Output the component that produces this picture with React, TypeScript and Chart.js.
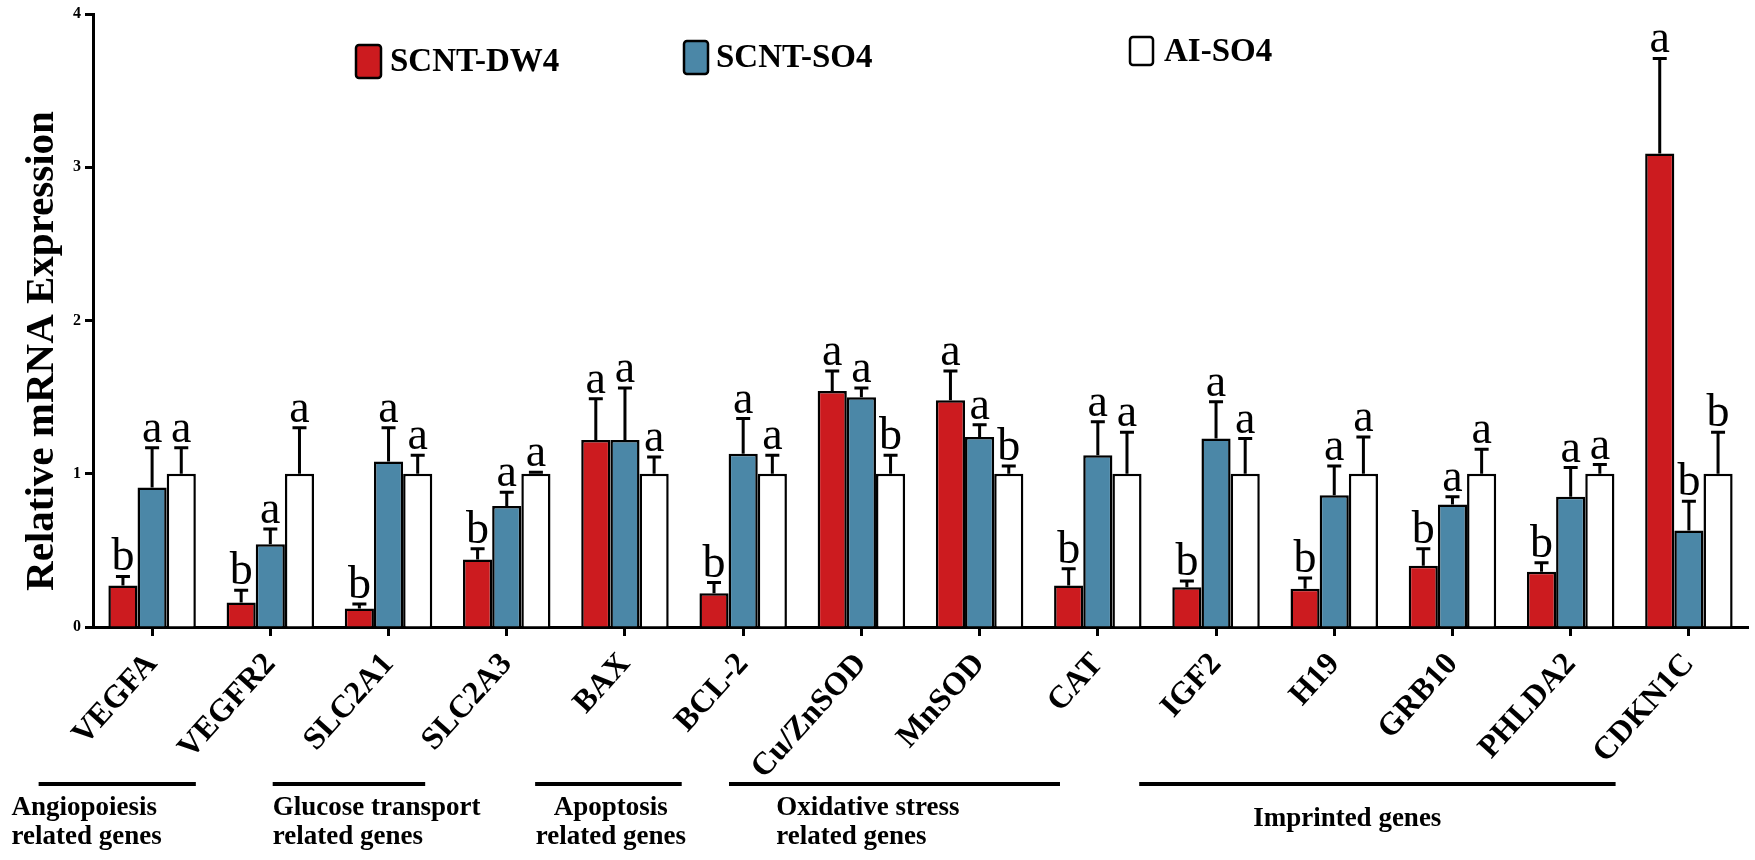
import React, { useEffect, useRef } from "react";
import { Chart, registerables } from "chart.js";

Chart.register(...registerables);

const genes = ["VEGFA", "VEGFR2", "SLC2A1", "SLC2A3", "BAX", "BCL-2", "Cu/ZnSOD", "MnSOD", "CAT", "IGF2", "H19", "GRB10", "PHLDA2", "CDKN1C"];
const seriesNames = ["SCNT-DW4", "SCNT-SO4", "AI-SO4"];

const dw4 = [0.27, 0.16, 0.12, 0.44, 1.22, 0.22, 1.54, 1.48, 0.27, 0.26, 0.25, 0.40, 0.36, 3.09];
const so4 = [0.91, 0.54, 1.08, 0.79, 1.22, 1.13, 1.50, 1.24, 1.12, 1.23, 0.86, 0.80, 0.85, 0.63];
const aiso4 = [1, 1, 1, 1, 1, 1, 1, 1, 1, 1, 1, 1, 1, 1];

const dw4Err = [0.06, 0.08, 0.03, 0.07, 0.27, 0.07, 0.13, 0.19, 0.11, 0.04, 0.07, 0.11, 0.06, 0.62];
const so4Err = [0.26, 0.10, 0.22, 0.09, 0.34, 0.23, 0.06, 0.08, 0.22, 0.24, 0.19, 0.05, 0.19, 0.19];
const aiso4Err = [0.17, 0.30, 0.12, 0.01, 0.11, 0.12, 0.12, 0.05, 0.27, 0.23, 0.24, 0.16, 0.06, 0.27];

const dw4Letters = ["b", "b", "b", "b", "a", "b", "a", "a", "b", "b", "b", "b", "b", "a"];
const so4Letters = ["a", "a", "a", "a", "a", "a", "a", "a", "a", "a", "a", "a", "a", "b"];
const aiso4Letters = ["a", "a", "a", "a", "a", "a", "b", "b", "a", "a", "a", "a", "a", "b"];

const yTicks = [0, 1, 2, 3, 4];

const groupNames = [
  ["Angiopoiesis", "related genes"],
  ["Glucose transport", "related genes"],
  ["Apoptosis", "related genes"],
  ["Oxidative stress", "related genes"],
  ["Imprinted genes"],
];

const SERIF = "'Liberation Serif', 'Times New Roman', serif";
const COLORS = ["#CC1B1F", "#4B87A7", "#FFFFFF"];

const ERRS = [dw4Err, so4Err, aiso4Err];
const LETTERS = [dw4Letters, so4Letters, aiso4Letters];

// layout of group annotations (in category-index units along the x scale)
const groupLayout = [
  { ls: -0.96, le: 0.37, tx: -1.19, align: "left", ty: [808, 837] },
  { ls: 1.02, le: 2.31, tx: 1.02, align: "left", ty: [808, 837] },
  { ls: 3.24, le: 4.48, tx: 3.88, align: "center", ty: [808, 837] },
  { ls: 4.88, le: 7.68, tx: 5.28, align: "left", ty: [808, 837] },
  { ls: 8.35, le: 12.38, tx: 10.11, align: "center", ty: [819] },
];

const errorBarPlugin = {
  id: "errorBars",
  afterDatasetsDraw(chart: any) {
    const ctx = chart.ctx;
    const y = chart.scales.y;
    ctx.save();
    chart.data.datasets.forEach((ds: any, di: number) => {
      const meta = chart.getDatasetMeta(di);
      meta.data.forEach((bar: any, i: number) => {
        const v = ds.data[i];
        const top = y.getPixelForValue(v + ERRS[di][i]);
        ctx.strokeStyle = "#000";
        ctx.lineWidth = 3;
        ctx.beginPath();
        ctx.moveTo(bar.x, bar.y);
        ctx.lineTo(bar.x, top);
        ctx.moveTo(bar.x - 7, top);
        ctx.lineTo(bar.x + 7, top);
        ctx.stroke();
        ctx.fillStyle = "#000";
        ctx.font = `46px ${SERIF}`;
        ctx.textAlign = "center";
        ctx.textBaseline = "alphabetic";
        ctx.fillText(LETTERS[di][i], bar.x, top - 6);
      });
    });
    ctx.restore();
  },
};

const decorPlugin = {
  id: "decor",
  afterDraw(chart: any) {
    const ctx = chart.ctx;
    const xs = chart.scales.x;
    const step = xs.getPixelForValue(1) - xs.getPixelForValue(0);
    const px = (u: number) => xs.getPixelForValue(0) + u * step;
    ctx.save();
    // y axis title
    ctx.save();
    ctx.translate(42, 351);
    ctx.rotate(-Math.PI / 2);
    ctx.font = `bold 41px ${SERIF}`;
    ctx.fillStyle = "#000";
    ctx.textAlign = "center";
    ctx.textBaseline = "middle";
    ctx.fillText("Relative mRNA Expression", 0, 0);
    ctx.restore();

    // legend
    const leg = [
      { bx: 356, by: 45, bw: 25, bh: 33, tx: 390, ty: 62 },
      { bx: 684, by: 41, bw: 24, bh: 33, tx: 716, ty: 58 },
      { bx: 1130, by: 37, bw: 23, bh: 28, tx: 1164, ty: 52 },
    ];
    chart.data.datasets.forEach((ds: any, i: number) => {
      const l = leg[i];
      ctx.fillStyle = ds.backgroundColor;
      ctx.strokeStyle = "#000";
      ctx.lineWidth = 2.5;
      ctx.beginPath();
      if (ctx.roundRect) ctx.roundRect(l.bx, l.by, l.bw, l.bh, 3);
      else ctx.rect(l.bx, l.by, l.bw, l.bh);
      ctx.fill();
      ctx.stroke();
      ctx.fillStyle = "#000";
      ctx.font = `bold 33px ${SERIF}`;
      ctx.textAlign = "left";
      ctx.textBaseline = "middle";
      ctx.fillText(ds.label, l.tx, l.ty);
    });

    // group annotations
    groupNames.forEach((lines, gi) => {
      const g = groupLayout[gi];
      ctx.strokeStyle = "#000";
      ctx.lineWidth = 4;
      ctx.beginPath();
      ctx.moveTo(px(g.ls), 784);
      ctx.lineTo(px(g.le), 784);
      ctx.stroke();
      ctx.fillStyle = "#000";
      ctx.font = `bold 27px ${SERIF}`;
      ctx.textAlign = g.align;
      ctx.textBaseline = "middle";
      lines.forEach((t, li) => ctx.fillText(t, px(g.tx), g.ty[li]));
    });
    ctx.restore();
  },
};

export default function App() {
  const ref = useRef<HTMLCanvasElement>(null);
  useEffect(() => {
    document.body.style.margin = "0";
    const chart = new Chart(ref.current as HTMLCanvasElement, {
      type: "bar",
      data: {
        labels: genes,
        datasets: [dw4, so4, aiso4].map((d, i) => ({
          label: seriesNames[i],
          data: d,
          backgroundColor: COLORS[i],
          borderColor: "#000",
          borderWidth: 2.5,
          borderSkipped: "bottom",
          categoryPercentage: 0.74,
          barPercentage: 1.0,
        })),
      },
      options: {
        responsive: false,
        animation: false,
        devicePixelRatio: 1,
        layout: { padding: { left: 0, right: 7, top: 14, bottom: 0 } },
        plugins: { legend: { display: false }, tooltip: { enabled: false } },
        scales: {
          x: {
            afterFit: (s: any) => { s.height = 233; },
            grid: { display: true, drawOnChartArea: false, drawTicks: true, offset: false, tickLength: 9, tickWidth: 3, tickColor: "#000" },
            border: { display: true, color: "#000", width: 3 },
            ticks: {
              autoSkip: false,
              minRotation: 48,
              maxRotation: 48,
              padding: 10,
              color: "#000",
              font: { family: SERIF, size: 32, weight: "bold" },
            },
          },
          y: {
            min: 0,
            max: 4,
            afterFit: (s: any) => { s.width = 93; },
            afterBuildTicks: (s: any) => { s.ticks = yTicks.map((v) => ({ value: v })); },
            grid: { display: true, drawOnChartArea: false, drawTicks: true, tickLength: 8, tickWidth: 3, tickColor: "#000" },
            border: { display: true, color: "#000", width: 3 },
            ticks: {
              padding: 4,
              color: "#000",
              font: { family: SERIF, size: 16, weight: "bold" },
            },
          },
        },
      },
      plugins: [errorBarPlugin, decorPlugin],
    } as any);
    return () => chart.destroy();
  }, []);
  return (
    <div style={{ width: 1755, height: 860, background: "#fff" }}>
      <canvas ref={ref} width={1755} height={860} style={{ display: "block" }} />
    </div>
  );
}
